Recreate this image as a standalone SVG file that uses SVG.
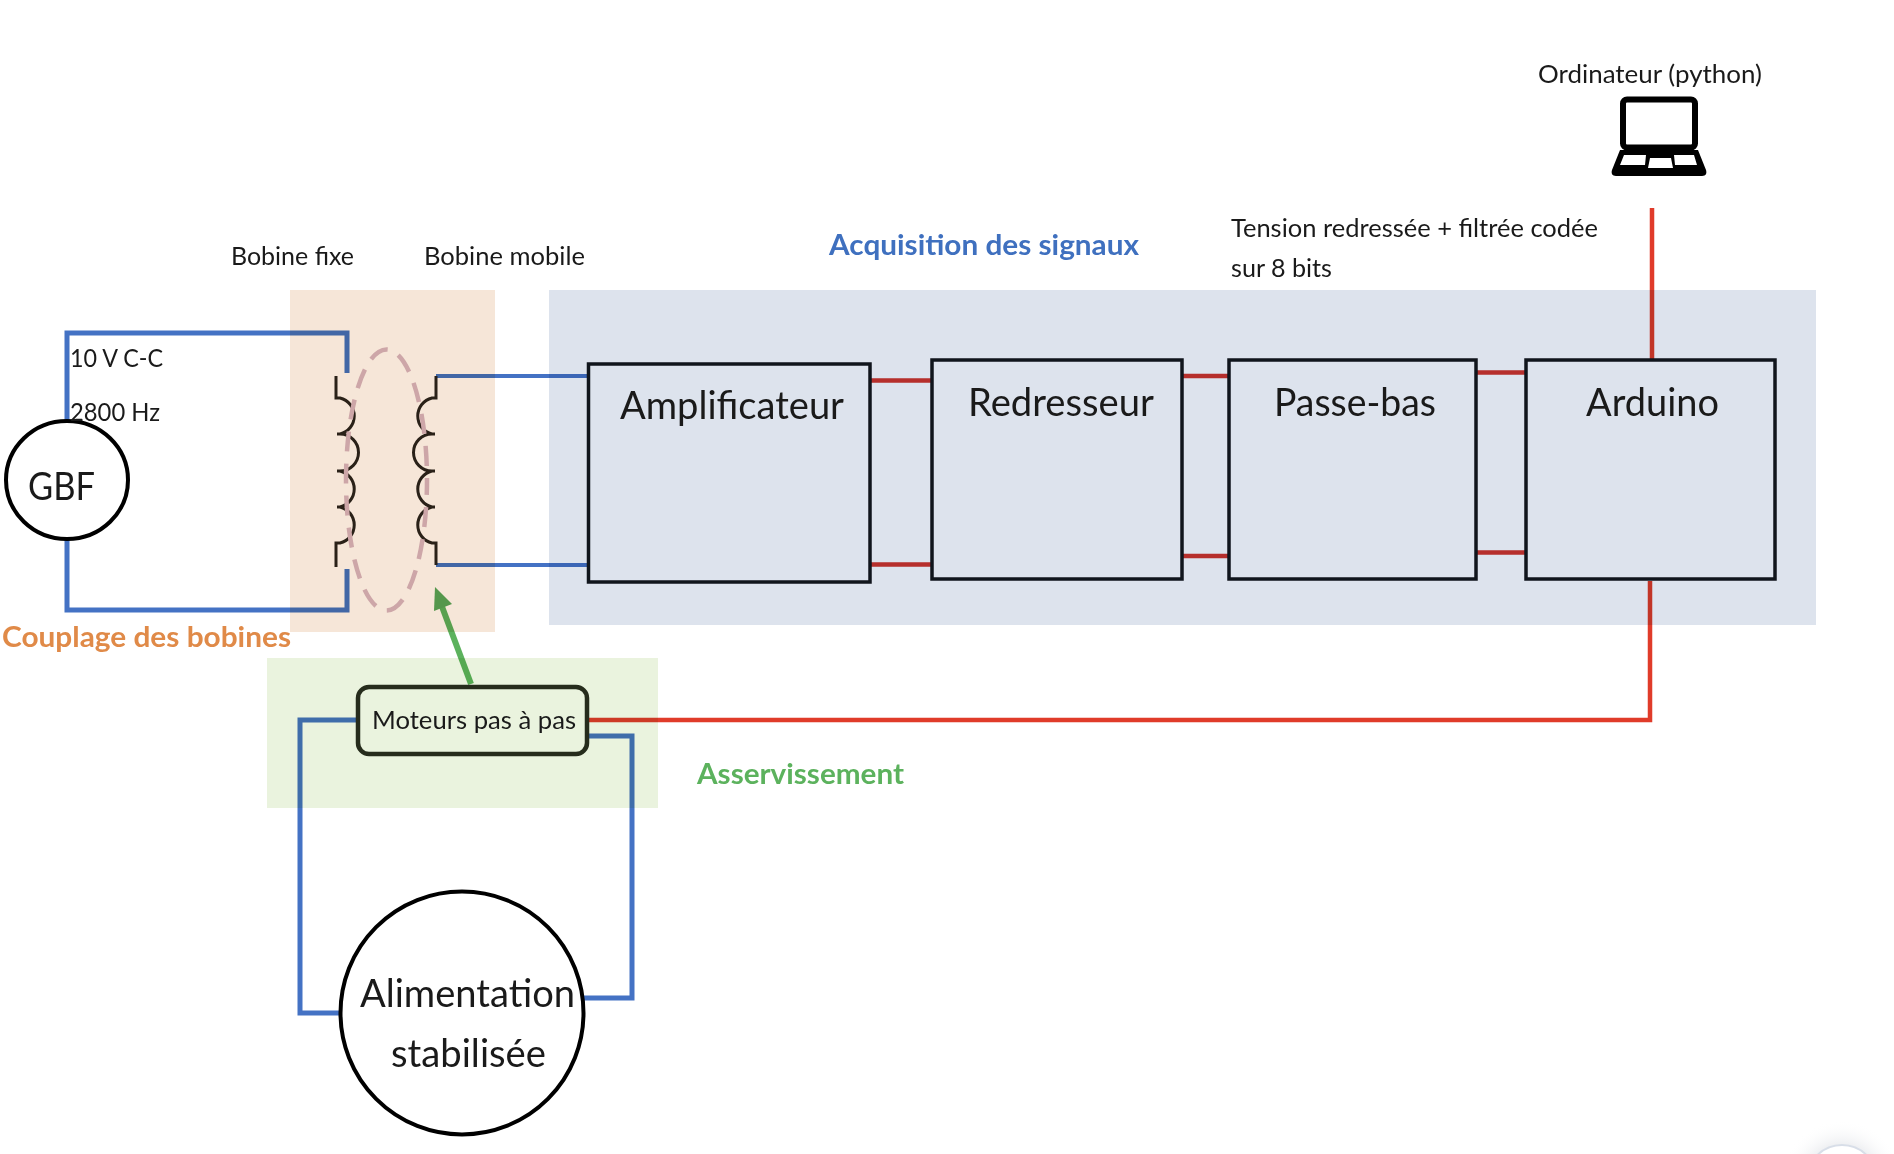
<svg xmlns="http://www.w3.org/2000/svg" width="1894" height="1154" viewBox="0 0 1894 1154">
<defs>
<style>
text{font-family:Lato,"Liberation Sans",sans-serif;fill:#1a1a1a}
.s{font-size:25px}
.l{font-size:38px}
.b{font-size:28px;font-weight:700}
.blue{fill:none;stroke:#4472c4;stroke-width:5}
.thin{stroke-width:4}
.red{fill:none;stroke:#e03b2a;stroke-width:4.5}
.link{fill:none;stroke:#d2342f;stroke-width:4.5}
.box{fill:none;stroke:#10151c;stroke-width:3.5}
.circ{fill:#fff;stroke:#000;stroke-width:4}
.coil{fill:none;stroke:#2a2118;stroke-width:3}
.reg{mix-blend-mode:multiply}
</style>
<radialGradient id="glow"><stop offset="0.6" stop-color="#e4e6ea" stop-opacity=".6"/><stop offset="1" stop-color="#fff" stop-opacity="0"/></radialGradient>
</defs>
<rect width="1894" height="1154" fill="#fff"/>
<g id="connectors">
<path class="blue" d="M67 421V333H347V373"/>
<path class="blue" d="M67 540V610H347V569"/>
<path class="blue thin" d="M436 376H589"/>
<path class="blue thin" d="M436 565H589"/>
<path class="blue" d="M357 720H300V1013H341"/>
<path class="blue" d="M588 736H632V998H584"/>
<path class="red" d="M588 720H1650V581"/>
<path class="red" d="M1652 208V360"/>
<path class="link" d="M870 380.500H932M870 564.500H932M1182 376H1229M1182 556H1229M1476 372.500H1526M1476 552.500H1526"/>
<path fill="none" stroke="#5cb25d" stroke-width="6" d="M471 684L441 604"/>
<polygon fill="#58a75a" points="435,587 452,604 434,611"/>
</g>
<g id="regions">
<rect id="region-couplage" class="reg" x="290" y="290" width="205" height="342" fill="#f6e6d8"/>
<rect id="region-acquisition" class="reg" x="549" y="290" width="1267" height="335" fill="#dde3ed"/>
<rect id="region-asservissement" class="reg" x="267" y="658" width="391" height="150" fill="#eaf3de"/>
</g>
<g id="bobine-fixe">
<path class="coil" d="M336 376V398H340A18.500 18.500 0 0 1 340 434H337M340 434A18.500 18.500 0 0 1 340 471H337M340 471A18.500 18.500 0 0 1 340 507H337M340 507A18.500 18.500 0 0 1 340 543H336V567"/>
</g>
<g id="bobine-mobile">
<path class="coil" d="M436 376V398H432A18.500 18.500 0 0 0 432 434H435M432 434A18.500 18.500 0 0 0 432 471H435M432 471A18.500 18.500 0 0 0 432 507H435M432 507A18.500 18.500 0 0 0 432 543H436V565"/>
</g>
<g id="couplage-ellipse">
<ellipse cx="386.500" cy="480" rx="40.500" ry="130.500" fill="none" stroke="#cda6a8" stroke-width="4.500" stroke-dasharray="20 12.100" stroke-dashoffset="5"/>
</g>
<g id="gbf">
<ellipse class="circ" cx="67" cy="480" rx="61" ry="59"/>
<text class="l" x="28" y="500" textLength="67" lengthAdjust="spacingAndGlyphs">GBF</text>
</g>
<g id="amplificateur"><rect class="box" x="588.500" y="364" width="281.500" height="218"/>
<text class="l" x="620" y="419" textLength="224" lengthAdjust="spacingAndGlyphs">Amplificateur</text></g>
<g id="redresseur"><rect class="box" x="932" y="360" width="250" height="219"/>
<text class="l" x="968" y="416" textLength="186" lengthAdjust="spacingAndGlyphs">Redresseur</text></g>
<g id="passe-bas"><rect class="box" x="1229" y="360" width="247" height="219"/>
<text class="l" x="1274" y="416" textLength="162" lengthAdjust="spacingAndGlyphs">Passe-bas</text></g>
<g id="arduino"><rect class="box" x="1526" y="360" width="249" height="219"/>
<text class="l" x="1586" y="416" textLength="133" lengthAdjust="spacingAndGlyphs">Arduino</text></g>
<g id="moteurs"><rect x="358" y="687" width="229" height="67" rx="11" fill="none" stroke="#262c1c" stroke-width="4.500"/>
<text class="s" x="372" y="729" textLength="204" lengthAdjust="spacingAndGlyphs">Moteurs pas à pas</text></g>
<g id="alimentation"><circle class="circ" cx="462" cy="1013" r="121.500"/>
<text class="l" x="360" y="1007" textLength="215" lengthAdjust="spacingAndGlyphs">Alimentation</text>
<text class="l" x="391" y="1067" textLength="155" lengthAdjust="spacingAndGlyphs">stabilisée</text></g>
<g id="ordinateur">
<rect x="1623" y="99.500" width="72" height="48" rx="4" fill="#fff" stroke="#000" stroke-width="6"/>
<path fill="#000" d="M1620 150H1698L1706 170C1707 173 1706 176 1702 176H1616C1612 176 1611 173 1612 170Z"/>
<path fill="#fff" d="M1624 155H1646L1645 165H1620ZM1674 155H1694L1697 165H1675ZM1650 158H1671L1673 168H1648Z"/>
<text class="s" x="1538" y="83" textLength="224" lengthAdjust="spacingAndGlyphs">Ordinateur (python)</text>
</g>
<g id="labels">
<text class="s" x="231" y="265" textLength="123" lengthAdjust="spacingAndGlyphs">Bobine fixe</text>
<text class="s" x="424" y="265" textLength="161" lengthAdjust="spacingAndGlyphs">Bobine mobile</text>
<text class="s" x="70" y="367" textLength="93" lengthAdjust="spacingAndGlyphs">10 V C-C</text>
<text class="s" x="70" y="421" textLength="90" lengthAdjust="spacingAndGlyphs">2800 Hz</text>
<text class="s" x="1231" y="237" textLength="367" lengthAdjust="spacingAndGlyphs">Tension redressée + filtrée codée</text>
<text class="s" x="1231" y="277" textLength="101" lengthAdjust="spacingAndGlyphs">sur 8 bits</text>
<text class="b" x="829" y="255" textLength="310" lengthAdjust="spacingAndGlyphs" style="fill:#3f70bf">Acquisition des signaux</text>
<text class="b" x="2" y="647" textLength="289" lengthAdjust="spacingAndGlyphs" style="fill:#e08a48">Couplage des bobines</text>
<text class="b" x="697" y="784" textLength="207" lengthAdjust="spacingAndGlyphs" style="fill:#5cb25d">Asservissement</text>
</g>
<g id="corner">
<circle cx="1842" cy="1180" r="60" fill="url(#glow)"/>
<circle cx="1842" cy="1180" r="35" fill="#fff" stroke="#d8dee8" stroke-width="2"/>
</g>
</svg>
